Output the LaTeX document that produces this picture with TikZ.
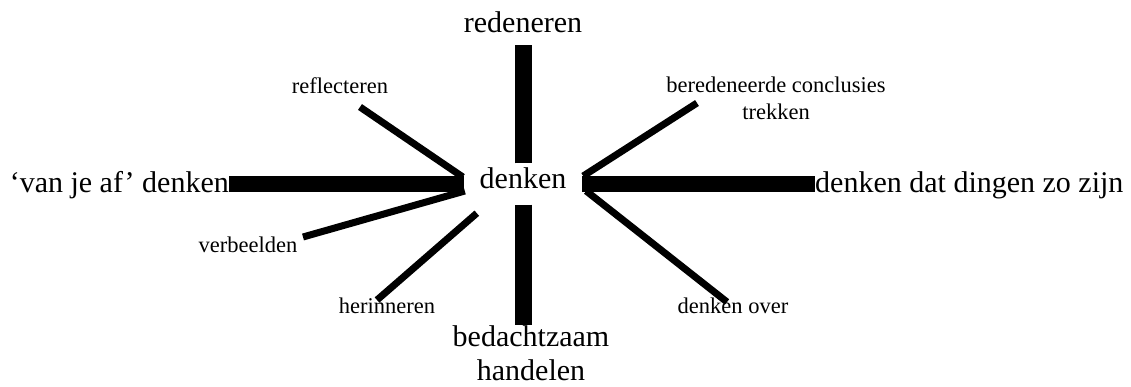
\documentclass[tikz,border=0pt]{standalone}
\usepackage{fontspec}
\setmainfont{Liberation Serif}
\usepackage{tikz}

\tikzset{
  bigtext/.style={font=\fontsize{30}{34}\selectfont, inner sep=0pt},
  smalltext/.style={font=\fontsize{22.5}{27}\selectfont, inner sep=0pt},
  bar/.style={line width=16pt},
  spoke/.style={line width=7pt}
}

\begin{document}
\begin{tikzpicture}[x=1pt,y=-1pt]
\useasboundingbox (0,0) rectangle (1131,386);
% centre
\node[bigtext, minimum width=118pt, minimum height=41pt,
      text height=20pt, text depth=12pt] (denken) at (523,184) {denken};
% main labels
\node[bigtext, anchor=base] (redeneren) at (523,32) {redeneren};
\node[bigtext, anchor=north, align=center] (bedacht) at (531,325) {bedachtzaam\\handelen};
\node[bigtext, anchor=base east] (vanjeaf) at (229,192) {`van je af' denken};
\node[bigtext, anchor=base west] (dingen) at (815,192) {denken dat dingen zo zijn};
% small labels
\node[smalltext, anchor=base] (reflecteren) at (340,93) {reflecteren};
\node[smalltext, anchor=base] (verbeelden) at (248,252) {verbeelden};
\node[smalltext, anchor=base] (herinneren) at (387,313) {herinneren};
\node[smalltext, anchor=base] (denkenover) at (733,313) {denken over};
\node[smalltext, anchor=north, align=center] (conclusies) at (776,77) {beredeneerde conclusies\\trekken};
% free ends of the thin spokes
\coordinate (refl-tip) at (360,107);
\coordinate (verb-tip) at (303,237);
\coordinate (herin-tip) at (377,300);
\coordinate (over-tip) at (727,302);
\coordinate (concl-tip) at (697,103);
% thick bars
\draw[line width=17pt] (denken.north) -- ([yshift=-13pt]denken.north |- redeneren.base);
\draw[line width=17pt] (denken.south) -- (denken.south |- bedacht.north);
\draw[bar] (denken.west) -- (denken.west -| vanjeaf.east);
\draw[bar] (denken.east) -- (denken.east -| dingen.west);
% thin spokes
\draw[spoke] ([xshift=-1pt,yshift=7pt]denken.west) -- (refl-tip);
\draw[spoke] ([xshift=1pt,yshift=-7pt]denken.west) -- (verb-tip);
\draw[spoke] ([xshift=13pt,yshift=-8.5pt]denken.south west) -- (herin-tip);
\draw[spoke] ([xshift=4pt,yshift=-7pt]denken.east) -- (over-tip);
\draw[spoke] ([xshift=1pt,yshift=8pt]denken.east) -- (concl-tip);
\end{tikzpicture}
\end{document}
